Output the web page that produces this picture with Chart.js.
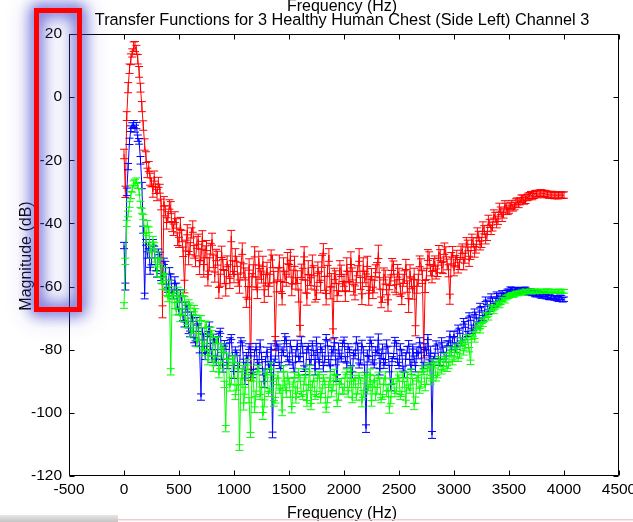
<!DOCTYPE html>
<html><head><meta charset="utf-8">
<script src="https://cdn.jsdelivr.net/npm/chart.js@4.4.0/dist/chart.umd.min.js"></script>
<style>html,body{margin:0;padding:0;background:#fff;overflow:hidden}#wrap{width:633px;height:522px;position:relative}canvas{display:block}</style>
</head><body><div id="wrap"><canvas id="c" width="633" height="522"></canvas></div>
<script>
const frequencies = [
0,12.5,25,37.5,50,62.5,75,87.5,100,112.5,125,137.5,150,162.5,175,187.5,200,212.5,225,237.5,250,262.5,275,287.5,300,312.5,325,337.5,350,362.5,375,387.5,400,412.5,425,437.5,450,462.5,475,487.5,
500,512.5,525,537.5,550,562.5,575,587.5,600,612.5,625,637.5,650,662.5,675,687.5,700,712.5,725,737.5,750,762.5,775,787.5,800,812.5,825,837.5,850,862.5,875,887.5,900,912.5,925,937.5,950,962.5,975,987.5,
1000,1012.5,1025,1037.5,1050,1062.5,1075,1087.5,1100,1112.5,1125,1137.5,1150,1162.5,1175,1187.5,1200,1212.5,1225,1237.5,1250,1262.5,1275,1287.5,1300,1312.5,1325,1337.5,1350,1362.5,1375,1387.5,1400,1412.5,1425,1437.5,1450,1462.5,1475,1487.5,
1500,1512.5,1525,1537.5,1550,1562.5,1575,1587.5,1600,1612.5,1625,1637.5,1650,1662.5,1675,1687.5,1700,1712.5,1725,1737.5,1750,1762.5,1775,1787.5,1800,1812.5,1825,1837.5,1850,1862.5,1875,1887.5,1900,1912.5,1925,1937.5,1950,1962.5,1975,1987.5,
2000,2012.5,2025,2037.5,2050,2062.5,2075,2087.5,2100,2112.5,2125,2137.5,2150,2162.5,2175,2187.5,2200,2212.5,2225,2237.5,2250,2262.5,2275,2287.5,2300,2312.5,2325,2337.5,2350,2362.5,2375,2387.5,2400,2412.5,2425,2437.5,2450,2462.5,2475,2487.5,
2500,2512.5,2525,2537.5,2550,2562.5,2575,2587.5,2600,2612.5,2625,2637.5,2650,2662.5,2675,2687.5,2700,2712.5,2725,2737.5,2750,2762.5,2775,2787.5,2800,2812.5,2825,2837.5,2850,2862.5,2875,2887.5,2900,2912.5,2925,2937.5,2950,2962.5,2975,2987.5,
3000,3012.5,3025,3037.5,3050,3062.5,3075,3087.5,3100,3112.5,3125,3137.5,3150,3162.5,3175,3187.5,3200,3212.5,3225,3237.5,3250,3262.5,3275,3287.5,3300,3312.5,3325,3337.5,3350,3362.5,3375,3387.5,3400,3412.5,3425,3437.5,3450,3462.5,3475,3487.5,
3500,3512.5,3525,3537.5,3550,3562.5,3575,3587.5,3600,3612.5,3625,3637.5,3650,3662.5,3675,3687.5,3700,3712.5,3725,3737.5,3750,3762.5,3775,3787.5,3800,3812.5,3825,3837.5,3850,3862.5,3875,3887.5,3900,3912.5,3925,3937.5,3950,3962.5,3975,3987.5,
4000];

const subject1Values = [
-18,-30,-6,3,9,12,14,16,16,15,12,8,3,-3,-9,-15,-19,-24,-22,-26,-27,-30,-25,-29,-31,-27,-29,-34,-68,-33,-36,-40,-38,-34,-35,-41,-42,-38,-40,-45,
-46,-40,-44,-49,-60,-47,-42,-51,-48,-43,-41,-49,-52,-46,-45,-54,-50,-44,-55,-49,-47,-58,-53,-48,-45,-52,-57,-50,-51,-62,-58,-49,-53,-57,-61,-52,-55,-59,-44,-54,
-57,-50,-52,-58,-60,-54,-48,-55,-56,-65,-62,-53,-88,-58,-55,-49,-59,-62,-51,-56,-57,-52,-63,-58,-54,-61,-58,-50,-52,-57,-78,-60,-56,-52,-60,-64,-53,-57,-58,-51,
-55,-50,-61,-57,-52,-59,-57,-63,-74,-55,-56,-49,-60,-64,-54,-58,-59,-52,-55,-63,-62,-54,-57,-60,-52,-48,-59,-64,-55,-50,-62,-58,-75,-56,-57,-63,-61,-54,-55,-60,
-58,-63,-53,-57,-60,-51,-56,-61,-62,-57,-55,-50,-59,-64,-53,-57,-58,-52,-64,-59,-56,-62,-60,-55,-54,-49,-59,-65,-63,-56,-57,-61,-66,-59,-58,-53,-54,-60,-61,-55,
-56,-61,-64,-58,-57,-53,-60,-66,-55,-59,-62,-56,-74,-60,-58,-52,-53,-57,-81,-60,-56,-50,-51,-55,-57,-53,-52,-56,-55,-49,-50,-54,-54,-48,-49,-53,-55,-64,-51,-49,
-55,-52,-50,-54,-53,-49,-48,-53,-51,-46,-47,-52,-50,-45,-46,-49,-48,-43,-44,-47,-46,-41,-42,-45,-44,-39,-40,-42,-41,-37,-38,-40,-39,-35,-36,-38,-37,-34,-35,-36,
-35.5,-34.5,-34,-35,-34.5,-33.5,-33,-33.8,-33,-32.2,-32,-32.8,-32.5,-31.8,-31.5,-31.2,-31,-31.5,-31,-30.6,-30.5,-30.8,-30.5,-30.3,-30.5,-30.6,-30.5,-30.8,-30.8,-31,-31,-30.9,-31,-31.2,-31,-31.1,-31.2,-31,-31,-31.1,
-31];
const subject1Errors = [
1.5,1.8,1.4,1.6,1.5,1.7,1.3,1.5,1.6,1.4,1.5,1.7,1.4,1.6,1.5,1.8,1.7,1.5,1.6,1.9,1.4,1.7,1.6,1.5,1.8,1.6,1.4,1.7,1.9,1.5,1.6,1.8,1.7,1.5,1.9,1.6,1.8,1.7,1.5,2.0,
1.6,1.9,1.8,1.5,2.0,1.7,1.6,2.1,1.9,1.6,1.8,2.0,1.7,1.9,1.6,2.2,1.8,1.7,2.0,1.9,1.6,1.8,2.1,1.7,1.9,2.0,1.6,1.8,2.2,1.7,1.9,1.8,1.6,2.1,2.0,1.7,1.9,1.6,1.8,2.2,
1.8,2.0,1.6,1.9,2.1,1.7,1.8,2.2,1.9,1.6,2.0,1.8,1.7,2.1,1.9,1.6,2.0,1.8,2.2,1.7,1.9,1.6,2.0,1.8,1.7,2.1,1.9,1.6,2.0,1.8,2.2,1.7,1.9,2.0,1.6,1.8,2.1,1.7,1.9,1.8,
2.0,1.7,1.9,2.2,1.6,1.8,2.0,1.9,1.7,2.1,1.8,1.6,2.0,1.9,2.2,1.7,1.8,2.0,1.6,1.9,2.1,1.8,1.7,2.0,1.9,1.6,2.2,1.8,1.7,2.0,1.9,2.1,1.6,1.8,2.0,1.7,1.9,2.2,1.8,1.6,
1.9,1.7,2.1,1.8,1.6,2.0,1.9,1.7,2.2,1.8,1.6,2.0,1.9,1.7,2.1,1.8,2.0,1.6,1.9,2.2,1.7,1.8,2.0,1.9,1.6,2.1,1.8,1.7,2.0,1.9,2.2,1.6,1.8,2.0,1.7,1.9,2.1,1.8,1.6,2.0,
1.8,2.1,1.7,1.9,2.0,1.6,1.8,2.2,1.9,1.7,2.0,1.8,1.6,2.1,1.9,1.7,1.8,2.0,1.6,1.9,1.8,1.7,2.0,1.6,1.8,1.9,1.7,1.6,1.8,2.0,1.7,1.6,1.9,1.8,1.6,1.7,1.9,1.6,1.8,1.7,
1.6,1.8,1.5,1.7,1.6,1.8,1.5,1.7,1.6,1.5,1.7,1.6,1.4,1.6,1.5,1.7,1.4,1.6,1.5,1.4,1.6,1.5,1.3,1.5,1.4,1.6,1.3,1.5,1.4,1.3,1.5,1.4,1.3,1.4,1.2,1.4,1.3,1.2,1.4,1.2,
1.3,1.2,1.3,1.1,1.2,1.3,1.1,1.2,1.1,1.2,1.0,1.1,1.2,1.0,1.1,1.0,1.1,1.0,1.1,1.0,1.0,1.1,1.0,1.0,1.1,1.0,1.0,1.1,1.0,1.0,1.0,1.1,1.0,1.0,1.0,1.1,1.0,1.0,1.0,1.0,
1.0];

const subject2Values = [
-47,-60,-30,-22,-14,-10,-9,-8.5,-10,-9,-13,-14,-20,-28,-42,-63,-46,-50,-47,-55,-52,-46,-48,-54,-56,-49,-50,-57,-58,-52,-53,-60,-61,-55,-57,-62,-63,-58,-60,-66,
-68,-62,-64,-70,-72,-66,-67,-74,-75,-69,-70,-77,-78,-71,-73,-80,-95,-74,-76,-82,-80,-75,-72,-79,-83,-76,-77,-84,-81,-75,-74,-82,-86,-78,-79,-85,-84,-77,-76,-83,
-88,-80,-81,-86,-85,-77,-78,-84,-90,-82,-83,-79,-80,-88,-87,-81,-79,-84,-85,-78,-82,-87,-91,-83,-80,-85,-86,-79,-107,-84,-83,-78,-79,-85,-86,-80,-81,-76,-77,-83,
-84,-78,-80,-85,-88,-81,-78,-83,-83,-77,-80,-86,-87,-80,-79,-84,-84,-78,-81,-87,-77,-82,-85,-79,-80,-86,-83,-76,-78,-84,-86,-80,-81,-77,-84,-89,-79,-82,-83,-78,
-77,-83,-85,-79,-80,-86,-88,-81,-82,-77,-79,-85,-84,-78,-80,-86,-105,-81,-83,-77,-78,-84,-85,-80,-81,-76,-87,-82,-79,-85,-84,-78,-80,-86,-92,-83,-82,-77,-78,-84,
-85,-79,-81,-86,-88,-82,-80,-78,-84,-87,-79,-83,-86,-80,-82,-77,-80,-86,-85,-79,-81,-76,-84,-80,-107,-83,-82,-78,-79,-84,-84,-77,-80,-82,-83,-78,-78,-75,-81,-77,
-75,-80,-79,-73,-74,-78,-77,-71,-72,-76,-75,-69,-70,-74,-73,-68,-69,-72,-71,-66,-67,-70,-69,-64,-65,-68,-67,-63,-64,-66,-65.5,-62.5,-63,-65,-64,-62,-62.5,-63,-62,-61.5,
-61.5,-60.8,-61,-61.8,-61.5,-60.9,-61,-61.4,-61,-61.6,-61.5,-61,-61,-61.8,-62,-61.4,-61.5,-62.2,-62,-62.4,-62.5,-62.1,-62.5,-62.9,-63,-62.4,-62.5,-63.2,-63,-63.4,-63.5,-62.9,-63,-63.6,-63.5,-63.8,-64,-63.4,-63.5,-64.2,
-64];
const subject2Errors = [
1.0,1.1,1.2,1.0,1.0,0.9,0.9,1.1,1.1,1.0,1.0,0.9,1.2,1.0,1.1,0.9,0.9,1.0,1.0,1.1,1.1,0.9,0.8,1.0,1.0,0.9,0.9,1.1,1.1,1.0,1.0,0.8,0.8,1.0,1.0,0.9,0.9,1.1,1.1,1.0,
0.9,1.0,1.0,0.8,0.8,1.1,1.1,0.9,0.9,1.0,1.0,0.8,0.8,1.2,1.2,1.0,1.0,0.9,0.9,1.1,1.1,0.8,0.8,1.0,1.0,0.9,0.9,1.0,1.0,0.8,0.8,1.1,1.1,0.9,0.9,1.0,1.0,0.8,0.8,1.1,
1.1,0.9,0.9,1.0,1.0,0.8,0.8,1.0,1.0,1.1,1.1,0.9,0.9,0.8,0.8,1.0,1.0,0.9,0.9,1.1,1.1,1.0,1.0,0.8,0.8,1.2,1.2,0.9,0.9,1.0,1.0,0.8,0.8,1.0,1.0,0.9,0.9,1.1,1.1,0.8,
0.8,1.0,1.0,0.9,0.9,1.0,1.0,0.8,0.8,1.1,1.1,0.9,0.9,1.0,1.0,0.9,0.9,0.8,0.8,1.0,1.0,1.1,1.1,0.9,0.9,1.0,1.0,0.8,0.8,0.9,0.9,1.0,1.0,0.8,0.8,1.1,1.1,0.9,0.9,1.0,
1.0,0.8,0.8,0.9,0.9,1.0,1.0,0.9,0.9,1.1,1.1,0.8,0.8,1.0,1.0,1.2,1.2,0.9,0.9,1.0,1.0,0.8,0.8,0.9,0.9,1.0,1.0,0.8,0.8,0.9,0.9,1.1,1.1,1.0,1.0,0.8,0.8,0.9,0.9,1.0,
1.0,0.9,0.9,0.8,0.8,1.0,1.0,0.9,0.9,0.8,0.8,1.0,1.0,0.9,0.9,0.8,0.8,1.0,1.0,0.9,0.9,0.8,0.8,1.1,1.1,0.9,0.9,0.8,0.8,1.0,1.0,0.8,0.8,0.9,0.9,0.8,0.8,0.9,0.9,0.8,
0.8,0.9,0.9,0.8,0.8,0.8,0.8,0.9,0.9,0.8,0.8,0.7,0.7,0.8,0.8,0.9,0.9,0.8,0.8,0.7,0.7,0.8,0.8,0.7,0.7,0.8,0.8,0.7,0.7,0.7,0.7,0.8,0.8,0.7,0.7,0.7,0.7,0.8,0.8,0.7,
0.7,0.7,0.7,0.8,0.8,0.7,0.7,0.7,0.7,0.7,0.7,0.8,0.8,0.7,0.7,0.7,0.7,0.7,0.7,0.8,0.8,0.7,0.7,0.7,0.7,0.8,0.8,0.7,0.7,0.7,0.7,0.8,0.8,0.7,0.7,0.7,0.7,0.7,0.7,0.7,
0.7];

const subject3Values = [
-66,-52,-40,-37,-34,-31,-29,-27.5,-27,-26.5,-28,-30,-34,-36,-38,-42,-45,-40,-42,-48,-50,-45,-47,-53,-56,-50,-52,-58,-60,-55,-57,-62,-64,-59,-87,-63,-62,-66,-68,-61,
-64,-70,-68,-62,-64,-72,-71,-65,-66,-75,-74,-67,-68,-78,-76,-70,-70,-81,-79,-72,-72,-84,-81,-74,-75,-86,-83,-77,-77,-88,-85,-79,-80,-91,-105,-82,-84,-92,-90,-83,
-83,-95,-92,-85,-111,-90,-86,-98,-93,-87,-84,-96,-107,-89,-88,-99,-94,-86,-86,-95,-91,-101,-97,-88,-87,-94,-93,-85,-89,-97,-96,-90,-88,-93,-92,-100,-86,-91,-94,-88,
-90,-94,-99,-91,-88,-96,-93,-87,-89,-94,-95,-90,-87,-97,-92,-86,-98,-91,-89,-95,-94,-88,-88,-96,-93,-89,-90,-99,-96,-91,-88,-94,-92,-87,-89,-97,-95,-90,-90,-93,
-93,-88,-87,-94,-91,-86,-96,-90,-89,-95,-93,-88,-90,-97,-94,-89,-88,-93,-92,-87,-97,-91,-89,-95,-93,-88,-90,-96,-95,-90,-88,-94,-92,-99,-96,-90,-90,-94,-93,-88,
-89,-95,-94,-88,-91,-97,-88,-92,-93,-87,-90,-98,-96,-89,-88,-93,-91,-86,-87,-92,-90,-85,-86,-90,-89,-84,-85,-89,-88,-83,-84,-87,-86,-82,-83,-86,-85,-80,-81,-84,
-83,-79,-80,-83,-82,-77,-78,-81,-79,-76,-77,-80,-84,-76,-75,-77,-74,-72,-73,-74,-71,-72,-70.5,-69,-69,-70,-68,-66.5,-67,-68,-66.5,-65.5,-65.5,-66,-65,-64.2,-64,-64.5,-63.5,-63.2,
-63,-62.8,-62.5,-62.7,-62.5,-62.2,-62,-62.3,-62,-61.8,-62,-61.7,-61.5,-61.7,-61.5,-61.4,-61.5,-61.6,-61.5,-61.4,-61.5,-61.5,-61.5,-61.4,-61.5,-61.6,-61.5,-61.5,-61.5,-61.4,-61.5,-61.5,-61.5,-61.6,-61.5,-61.5,-61.5,-61.4,-61.5,-61.5,
-61.5];
const subject3Errors = [
0.9,1.0,1.0,0.9,0.9,1.1,1.1,1.0,1.0,0.9,0.9,1.0,1.0,0.8,0.8,1.1,1.1,0.9,0.9,1.0,1.0,0.9,0.9,0.8,0.8,1.0,1.0,0.9,0.9,1.1,1.1,0.8,0.8,1.0,1.0,0.9,0.9,1.0,1.0,0.8,
0.8,1.1,1.1,0.9,0.9,1.0,1.0,0.8,0.8,0.9,0.9,1.0,1.0,1.1,1.1,0.8,0.8,0.9,0.9,1.0,1.0,0.8,0.8,1.1,1.1,0.9,0.9,1.0,1.0,0.9,0.9,0.8,0.8,1.0,1.0,0.9,0.9,1.1,1.1,1.0,
1.0,0.8,0.8,0.9,0.9,1.0,1.0,1.1,1.1,0.9,0.9,0.8,0.8,1.0,1.0,0.9,0.9,1.0,1.0,0.8,0.8,1.1,1.1,0.9,0.9,0.8,0.8,1.0,1.0,0.9,0.9,1.0,1.0,0.8,0.8,0.9,0.9,1.1,1.1,0.9,
0.9,1.0,1.0,0.8,0.8,0.9,0.9,1.0,1.0,0.8,0.8,1.1,1.1,0.9,0.9,1.0,1.0,0.9,0.9,0.8,0.8,1.0,1.0,0.9,0.9,1.1,1.1,0.8,0.8,1.0,1.0,0.9,0.9,0.8,0.8,1.0,1.0,0.9,0.9,1.0,
1.1,0.9,0.9,1.0,1.0,0.8,0.8,0.9,0.9,1.0,1.0,0.8,0.8,1.1,1.1,0.9,0.9,1.0,1.0,0.9,0.9,0.8,0.8,1.0,1.0,0.9,0.9,0.8,0.8,1.0,1.0,0.9,0.9,1.1,1.1,0.8,0.8,0.9,0.9,1.0,
1.0,0.8,0.8,0.9,0.9,1.0,1.0,0.8,0.8,0.9,0.9,1.0,1.0,0.9,0.9,0.8,0.8,0.9,0.9,1.0,1.0,0.8,0.8,0.9,0.9,0.8,0.8,0.9,0.9,0.8,0.8,0.7,0.7,0.8,0.8,0.9,0.9,0.8,0.8,0.8,
0.7,0.8,0.8,0.7,0.7,0.8,0.8,0.7,0.7,0.8,0.8,0.7,0.7,0.7,0.7,0.6,0.6,0.7,0.7,0.7,0.7,0.6,0.6,0.7,0.7,0.6,0.6,0.7,0.7,0.6,0.6,0.6,0.6,0.7,0.7,0.6,0.6,0.7,0.7,0.6,
0.6,0.6,0.6,0.7,0.7,0.6,0.6,0.6,0.6,0.7,0.7,0.6,0.6,0.6,0.6,0.6,0.6,0.7,0.7,0.6,0.6,0.6,0.6,0.6,0.6,0.6,0.6,0.7,0.7,0.6,0.6,0.6,0.6,0.6,0.6,0.6,0.6,0.6,0.6,0.6,
0.6];

const xTickValues = [-500,0,500,1000,1500,2000,2500,3000,3500,4000,4500];
const yTickValues = [-120,-100,-80,-60,-40,-20,0,20];
const titleText = 'Transfer Functions for 3 Healthy Human Chest (Side Left) Channel 3';
const xAxisTitle = 'Frequency (Hz)';
const yAxisTitle = 'Magnitude (dB)';

const FONT = '"Liberation Sans", Arial, Helvetica, sans-serif';

function toPoints(vals){ return vals.map((v,i)=>({x:frequencies[i], y:v})); }

const errorBarPlugin = {
  id:'errorBars',
  afterDatasetDraw(chart, args){
    const ds = chart.data.datasets[args.index];
    if(!ds.errors) return;
    const xs = chart.scales.x, ys = chart.scales.y, ctx = chart.ctx, ca = chart.chartArea;
    ctx.save();
    ctx.beginPath(); ctx.rect(ca.left, ca.top, ca.right-ca.left, ca.bottom-ca.top); ctx.clip();
    ctx.strokeStyle = ds.borderColor; ctx.lineWidth = 1;
    ctx.beginPath();
    ds.data.forEach((p,i)=>{
      const e = (ds.errors[i] !== undefined) ? ds.errors[i] : 1;
      const x = xs.getPixelForValue(p.x);
      const yt = ys.getPixelForValue(p.y+e), yb = ys.getPixelForValue(p.y-e);
      ctx.moveTo(x,yt); ctx.lineTo(x,yb);
      ctx.moveTo(x-4,yt); ctx.lineTo(x+4,yt);
      ctx.moveTo(x-4,yb); ctx.lineTo(x+4,yb);
    });
    ctx.stroke();
    ctx.restore();
  }
};

const frameAndTextPlugin = {
  id:'frameText',
  afterDatasetsDraw(chart){
    const ctx = chart.ctx, ca = chart.chartArea, xs = chart.scales.x, ys = chart.scales.y;
    ctx.save();
    ctx.strokeStyle = '#000'; ctx.lineWidth = 1;
    const L = Math.round(ca.left)+0.5, R = Math.round(ca.right)-0.5, T = Math.round(ca.top)+0.5, B = Math.round(ca.bottom)-0.5;
    ctx.beginPath();
    ctx.rect(L, T, R-L, B-T);
    xTickValues.forEach(v=>{ const x = Math.round(xs.getPixelForValue(v))+0.5; ctx.moveTo(x,B); ctx.lineTo(x,B-5); ctx.moveTo(x,T); ctx.lineTo(x,T+5); });
    yTickValues.forEach(v=>{ const y = Math.round(ys.getPixelForValue(v))+0.5; ctx.moveTo(L,y); ctx.lineTo(L+5,y); ctx.moveTo(R,y); ctx.lineTo(R-5,y); });
    ctx.stroke();
    ctx.restore();
  },
  afterDraw(chart){
    const ctx = chart.ctx, ca = chart.chartArea;
    const cx = (ca.left+ca.right)/2 - 2;
    ctx.save();
    ctx.fillStyle = '#000';
    ctx.textAlign = 'center';
    ctx.textBaseline = 'alphabetic';
    ctx.font = '16px ' + FONT;
    ctx.fillText(xAxisTitle, cx, 11);
    ctx.font = '16.3px ' + FONT;
    ctx.fillText(titleText, cx, 25);
    ctx.font = '16px ' + FONT;
    ctx.fillText(xAxisTitle, cx, 518);
    ctx.translate(31, 256);
    ctx.rotate(-Math.PI/2);
    ctx.fillText(yAxisTitle, 0, 0);
    ctx.restore();

    // highlight box with glow
    ctx.save();
    ctx.strokeStyle = '#ff0000'; ctx.lineWidth = 5;
    ctx.shadowColor = 'rgba(70,70,205,0.85)';
    ctx.shadowBlur = 24;
    ctx.strokeRect(36.5, 10.5, 43, 299);
    ctx.shadowBlur = 14;
    ctx.strokeRect(36.5, 10.5, 43, 299);
    ctx.strokeRect(36.5, 10.5, 43, 299);
    ctx.shadowBlur = 0;
    ctx.strokeRect(36.5, 10.5, 43, 299);
    ctx.restore();

    // bottom window strip
    ctx.save();
    const g = ctx.createLinearGradient(0,515,0,522);
    g.addColorStop(0,'#e6e6e6'); g.addColorStop(1,'#c4c4c4');
    ctx.fillStyle = g; ctx.fillRect(0,515,118,7);
    ctx.fillStyle = '#f2cccc'; ctx.fillRect(118,519,515,1.5);
    ctx.restore();
  }
};

new Chart(document.getElementById('c'), {
  type:'line',
  data:{ datasets:[
    {label:'Subject 1', data:toPoints(subject1Values), errors:subject1Errors, borderColor:'#ff0000', backgroundColor:'#ff0000', borderWidth:1, pointRadius:0, tension:0, fill:false, order:3},
    {label:'Subject 2', data:toPoints(subject2Values), errors:subject2Errors, borderColor:'#0000ff', backgroundColor:'#0000ff', borderWidth:1, pointRadius:0, tension:0, fill:false, order:2},
    {label:'Subject 3', data:toPoints(subject3Values), errors:subject3Errors, borderColor:'#00ff00', backgroundColor:'#00ff00', borderWidth:1, pointRadius:0, tension:0, fill:false, order:1}
  ]},
  options:{
    responsive:false, animation:false, devicePixelRatio:1,
    layout:{padding:{top:34, right:14, left:0, bottom:0}},
    plugins:{legend:{display:false}, tooltip:{enabled:false}, title:{display:false}},
    scales:{
      x:{type:'linear', min:-500, max:4500,
         afterBuildTicks(s){ s.ticks = xTickValues.map(v=>({value:v})); },
         ticks:{color:'#000', font:{family:FONT, size:15.5}, padding:4, autoSkip:false, maxRotation:0, minRotation:0, callback:(v)=>String(v)},
         grid:{display:false, drawTicks:false}, border:{display:false},
         afterFit(s){ s.height = 46; s.paddingLeft = 0; s.paddingRight = 0; }},
      y:{type:'linear', min:-120, max:20,
         afterBuildTicks(s){ s.ticks = yTickValues.map(v=>({value:v})); },
         ticks:{color:'#000', font:{family:FONT, size:15.5}, padding:7, autoSkip:false, callback:(v)=>String(v)},
         grid:{display:false, drawTicks:false}, border:{display:false},
         afterFit(s){ s.width = 69; s.paddingTop = 0; s.paddingBottom = 0; }}
    }
  },
  plugins:[errorBarPlugin, frameAndTextPlugin]
});
</script></body></html>
